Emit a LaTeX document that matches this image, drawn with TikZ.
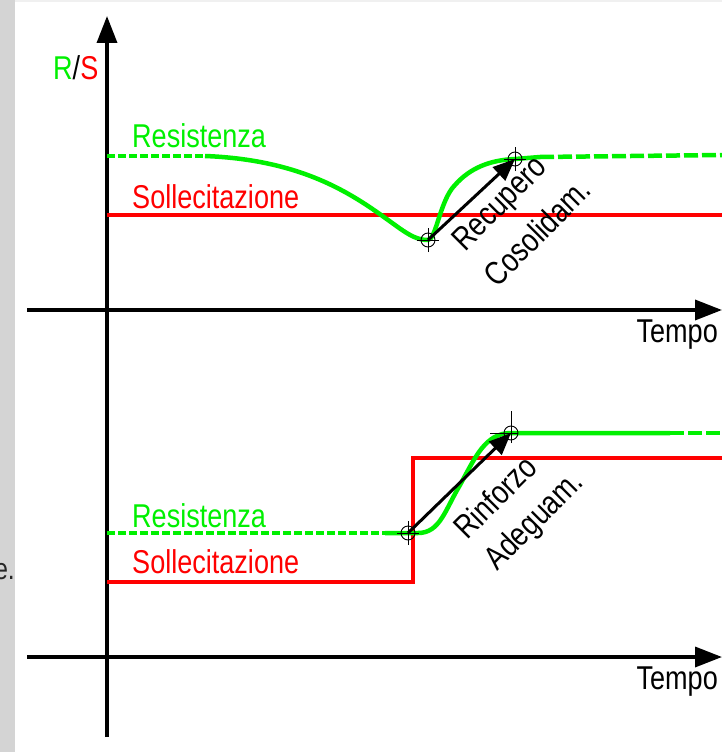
\documentclass[tikz,border=0pt]{standalone}
\usepackage{fontspec}
\setmainfont{Liberation Sans}[FakeStretch=0.82]
\usetikzlibrary{arrows.meta}
\definecolor{gr}{RGB}{0,240,0}
\definecolor{rd}{RGB}{255,0,0}
\definecolor{side}{RGB}{212,212,212}
\begin{document}
\begin{tikzpicture}[x=1pt,y=-1pt,
  lbl/.style={inner sep=0pt,anchor=base west,font=\fontsize{33}{38}\selectfont},
  axis/.style={line width=3.5pt,-{Triangle[length=27pt,width=20pt]}},
  rline/.style={rd,line width=4pt},
  gline/.style={gr,line width=4.5pt},
  gdash/.style={gr,line width=4.5pt,dash pattern=on 8pt off 3pt},
  gdashl/.style={gr,line width=4.5pt,dash pattern=on 14pt off 4pt},
  marr/.style={line width=3pt,-{Triangle[length=22pt,width=18pt]}},
  tgt/.style={black,line width=0.9pt},
  rot/.style={inner sep=0pt,rotate=45,font=\fontsize{33}{38}\selectfont}]
\path[use as bounding box] (0,0) rectangle (722,752);
\fill[side] (0,0) rectangle (15,752);
\fill[black!6] (15,0) rectangle (722,2);
\fill[white] (15,2) rectangle (722,752);
\node[inner sep=0pt,anchor=base east,font=\fontsize{30}{34}\selectfont,text=black!85] (ecut) at (15,579) {e.};
% axes
\coordinate (vb) at (107,737);
\coordinate (vt) at (107,16);
\coordinate (h1a) at (27,310);
\coordinate (h1b) at (722,310);
\coordinate (h2a) at (27,657);
\coordinate (h2b) at (722,657);
\draw[axis] (vb) -- (vt);
\draw[axis] (h1a) -- (h1b);
\draw[axis] (h2a) -- (h2b);
\node[lbl] (rs) at (53,80) {\textcolor{gr}{R}/\textcolor{rd}{S}};
\node[inner sep=0pt,anchor=base east,font=\fontsize{33}{38}\selectfont] (t1) at (718,342) {Tempo};
\node[inner sep=0pt,anchor=base east,font=\fontsize{33}{38}\selectfont] (t2) at (718,689) {Tempo};
% top graph
\node[lbl,text=gr] (res1) at (132,147) {Resistenza};
\node[lbl,text=rd] (sol1) at (132,208) {Sollecitazione};
\coordinate (s1a) at (107,215);
\coordinate (s1b) at (722,215);
\draw[rline] (s1a) -- (s1b);
\coordinate (r1a) at (107,156);
\coordinate (r1b) at (205,156);
\coordinate (p1) at (428,240);
\coordinate (p2) at (515,159);
\coordinate (r1c) at (540,157);
\coordinate (r1d) at (722,155);
\draw[gdash] (r1a) -- (r1b);
\draw[gline] (r1b) .. controls (310,160) and (360,200) .. (395,225)
  .. controls (410,236) and (418,240) .. (p1)
  .. controls (436,240) and (440,200) .. (455,185)
  .. controls (470,168) and (490,160) .. (p2) -- (r1c);
\draw[gdashl] (r1c) -- (r1d);
\draw[marr] (p1) -- (p2);
\foreach \p in {p1,p2}{
  \draw[tgt] (\p) circle (7);
  \draw[tgt] ([xshift=-11pt]\p) -- ([xshift=11pt]\p);
  \draw[tgt] ([yshift=-12pt]\p) -- ([yshift=12pt]\p);
}
\node[rot] (rec) at (501,205) {Recupero};
\node[rot] (cos) at (537,232) {Cosolidam.};
% bottom graph
\node[lbl,text=gr] (res2) at (132,527) {Resistenza};
\node[lbl,text=rd] (sol2) at (132,573) {Sollecitazione};
\coordinate (s2a) at (107,582);
\coordinate (s2b) at (413,582);
\coordinate (s2c) at (413,458);
\coordinate (s2d) at (722,458);
\draw[rline] (s2a) -- (s2b) -- (s2c) -- (s2d);
\coordinate (r2a) at (107,533);
\coordinate (r2b) at (385,533);
\coordinate (q1) at (408,533);
\coordinate (q2) at (511,433);
\coordinate (r2c) at (670,433);
\coordinate (r2d) at (722,433);
\draw[gdash] (r2a) -- (r2b);
\draw[gline] (r2b) -- (q1) -- (418,533) .. controls (440,533) and (445,510) .. (460,485)
  .. controls (475,458) and (485,433) .. (q2) -- (r2c);
\draw[gdashl] (r2c) -- (r2d);
\draw[marr] (q1) -- (q2);
\draw[tgt] (q1) circle (7);
\draw[tgt] ([xshift=-11pt]q1) -- ([xshift=11pt]q1);
\draw[tgt] ([yshift=-12pt]q1) -- ([yshift=12pt]q1);
\draw[tgt] (q2) circle (7);
\draw[tgt] ([xshift=-21pt]q2) -- ([xshift=7pt]q2);
\draw[tgt] ([yshift=-10pt]q2) -- ([yshift=22pt]q2);
\node[rot] (rin) at (495,497) {Rinforzo};
\node[rot] (ade) at (535,522) {Adeguam.};
\end{tikzpicture}
\end{document}
